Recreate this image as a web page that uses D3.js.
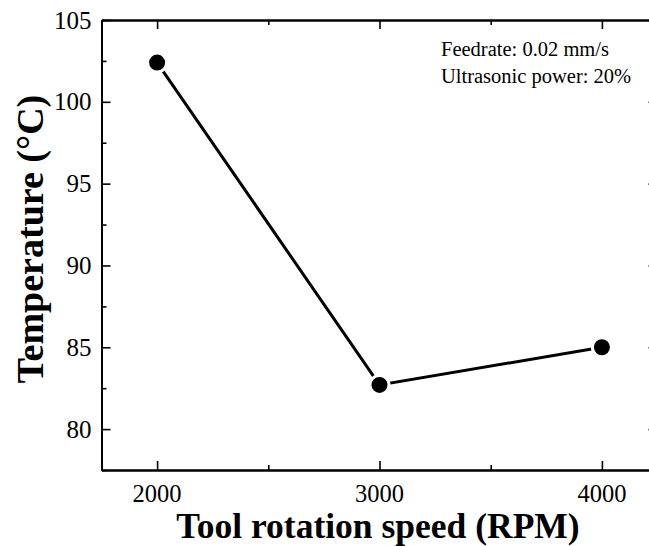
<!DOCTYPE html>
<html><head><meta charset="utf-8">
<script src="https://cdn.jsdelivr.net/npm/d3@7"></script>
<style>body{margin:0;background:#fff}svg{display:block}</style>
</head><body>
<svg id="c" width="649" height="546"></svg>
<script>
const speeds = [2000, 3000, 4000];
const temps = [102.4, 82.7, 85.0];
const xTicks = [2000, 3000, 4000];
const xMinor = [2500, 3500];
const yTicks = [80, 85, 90, 95, 100, 105];
const yMinor = [77.5, 82.5, 87.5, 92.5, 97.5, 102.5];
const notes = ["Feedrate: 0.02 mm/s", "Ultrasonic power: 20%"];

const svg = d3.select("#c");
const font = "Liberation Serif";
const L = 101.5, R = 657.5, T = 20, B = 470;
const x = d3.scaleLinear().domain([1750, 4250]).range([L, R]);
const y = d3.scaleLinear().domain([77.5, 105]).range([B, T]);

const axStyle = g => {
  g.select(".domain").attr("stroke", "#000").attr("stroke-width", 2);
  g.selectAll(".tick line").attr("stroke", "#000").attr("stroke-width", 1.6);
  g.selectAll(".tick text").remove();
};

// bottom
const gx = svg.append("g").attr("transform", `translate(0,${B})`)
  .call(d3.axisBottom(x).tickValues(xTicks).tickSizeInner(-9).tickSizeOuter(0))
  .call(axStyle);
gx.selectAll("text.lbl").data(xTicks).join("text").attr("class", "lbl")
  .attr("x", d => x(d)).attr("y", 31.5)
  .attr("text-anchor", "middle")
  .attr("font-family", font).attr("font-size", 24.5).attr("fill", "#000")
  .text(d => d3.format("d")(d));
svg.append("g").attr("transform", `translate(0,${B})`)
  .call(d3.axisBottom(x).tickValues(xMinor).tickSizeInner(-5).tickSizeOuter(0))
  .call(axStyle);
// top
svg.append("g").attr("transform", `translate(0,${T})`)
  .call(d3.axisTop(x).tickValues(xTicks).tickSizeInner(-9).tickSizeOuter(0))
  .call(axStyle);
svg.append("g").attr("transform", `translate(0,${T})`)
  .call(d3.axisTop(x).tickValues(xMinor).tickSizeInner(-5).tickSizeOuter(0))
  .call(axStyle);
// left
const gy = svg.append("g").attr("transform", `translate(${L},0)`)
  .call(d3.axisLeft(y).tickValues(yTicks).tickSizeInner(-9).tickSizeOuter(0))
  .call(axStyle);
gy.selectAll("text.lbl").data(yTicks).join("text").attr("class", "lbl")
  .attr("x", -10).attr("y", d => y(d) + 8.5)
  .attr("text-anchor", "end")
  .attr("font-family", font).attr("font-size", 25).attr("fill", "#000")
  .text(d => d);
svg.append("g").attr("transform", `translate(${L},0)`)
  .call(d3.axisLeft(y).tickValues(yMinor).tickSizeInner(-5).tickSizeOuter(0))
  .call(axStyle);
// right
svg.append("g").attr("transform", `translate(${R},0)`)
  .call(d3.axisRight(y).tickValues(yTicks).tickSizeInner(-9).tickSizeOuter(0))
  .call(axStyle);

// line
const pts = speeds.map((s, i) => [x(s), y(temps[i])]);
svg.append("path").datum(pts)
  .attr("d", d3.line())
  .attr("fill", "none").attr("stroke", "#000").attr("stroke-width", 3);
svg.selectAll("circle.pt").data(pts).join("circle")
  .attr("cx", d => d[0]).attr("cy", d => d[1]).attr("r", 9.5)
  .attr("fill", "#000").attr("stroke", "#fff").attr("stroke-width", 3);

// annotation
svg.append("g").selectAll("text").data(notes).join("text")
  .attr("x", 441).attr("y", (d, i) => 56 + i * 27)
  .attr("font-family", font).attr("font-size", 20.5).text(d => d);

// titles
svg.append("text").attr("x", 378).attr("y", 538)
  .attr("text-anchor", "middle").attr("font-family", font).attr("font-weight", "bold")
  .attr("font-size", 35.5).text("Tool rotation speed (RPM)");
svg.append("text").attr("transform", `translate(43,239) rotate(-90)`)
  .attr("text-anchor", "middle").attr("font-family", font).attr("font-weight", "bold")
  .attr("font-size", 38).text("Temperature (°C)");
</script>
</body></html>
